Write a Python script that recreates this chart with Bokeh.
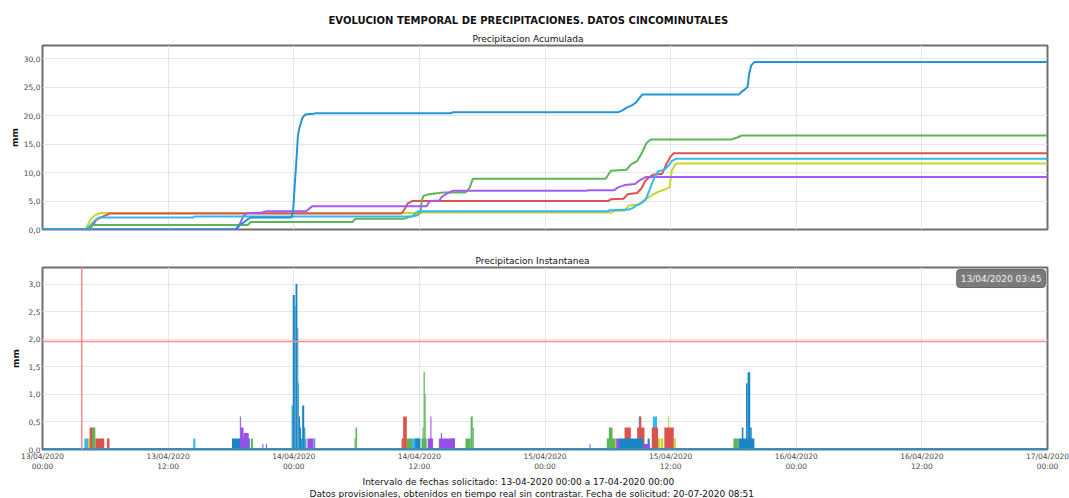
from bokeh.plotting import figure
from bokeh.layouts import column
from bokeh.models import FixedTicker, Title, Span, Label
from bokeh.embed import file_html
from bokeh.resources import INLINE

# ---------------- texts ----------------
title_main = "EVOLUCION TEMPORAL DE PRECIPITACIONES. DATOS CINCOMINUTALES"
title_top = "Precipitacion Acumulada"
title_bottom = "Precipitacion Instantanea"
footer_1 = "Intervalo de fechas solicitado: 13-04-2020 00:00 a 17-04-2020 00:00"
footer_2 = "Datos provisionales, obtenidos en tiempo real sin contrastar. Fecha de solicitud: 20-07-2020 08:51"
y_label = "mm"
cursor_label = "13/04/2020 03:45"
cursor_hour = 3.75       # hours since 13/04/2020 00:00
cursor_value = 1.96

# ---------------- axes ----------------
x_ticks = [0, 12, 24, 36, 48, 60, 72, 84, 96]   # hours since 13/04/2020 00:00
x_tick_labels = ["13/04/2020\n00:00", "13/04/2020\n12:00", "14/04/2020\n00:00",
                 "14/04/2020\n12:00", "15/04/2020\n00:00", "15/04/2020\n12:00",
                 "16/04/2020\n00:00", "16/04/2020\n12:00", "17/04/2020\n00:00"]
top_y_ticks = [0, 5, 10, 15, 20, 25, 30]
top_y_labels = ["0,0", "5,0", "10,0", "15,0", "20,0", "25,0", "30,0"]
bot_y_ticks = [0, 0.5, 1.0, 1.5, 2.0, 2.5, 3.0]
bot_y_labels = ["0,0", "0,5", "1,0", "1,5", "2,0", "2,5", "3,0"]

# ---------------- series colours ----------------
c_dblue = "#2496d3"
c_lblue = "#36b9ef"
c_green = "#5db55a"
c_red = "#d9534f"
c_purple = "#a35cf2"
c_yellow = "#c6d62b"

# ---------------- accumulated precipitation (hour, mm) ----------------
acum_dblue = [(0, 0), (18.4, 0), (18.7, 0.6), (19.2, 1.2), (19.6, 1.8), (19.9, 2.1), (23.8, 2.1),
              (23.95, 3.5), (24.1, 8.0), (24.25, 12.0), (24.4, 16.5), (24.5, 17.5), (24.8, 19.5),
              (25.1, 20.2), (25.9, 20.3), (26.1, 20.4), (39.0, 20.4), (39.2, 20.6), (55.0, 20.6),
              (55.4, 20.9), (55.8, 21.4), (56.3, 21.8), (56.7, 22.3), (57.0, 23.0), (57.3, 23.7),
              (66.5, 23.7), (66.8, 24.2), (67.1, 24.6), (67.35, 25.0), (67.5, 27.3), (67.7, 28.8),
              (68.0, 29.4), (96, 29.4)]
acum_lblue = [(0, 0), (4.2, 0), (4.5, 0.6), (5.0, 1.6), (5.4, 2.1), (14.4, 2.1), (14.5, 2.3),
              (35.3, 2.3), (35.6, 2.8), (35.9, 3.2), (54.0, 3.2), (54.2, 3.4), (56.0, 3.5),
              (56.4, 3.8), (56.9, 4.4), (57.2, 4.6), (57.6, 5.2), (57.9, 6.5), (58.2, 8.0),
              (58.5, 9.3), (58.8, 10.2), (59.4, 10.5), (59.8, 11.2), (60.1, 12.0), (60.5, 12.4),
              (96, 12.4)]
acum_red = [(0, 0), (4.4, 0), (4.8, 0.8), (5.2, 1.8), (5.9, 2.4), (6.2, 2.6), (6.4, 2.8),
            (34.3, 2.8), (34.6, 3.6), (34.9, 4.6), (35.3, 5.0), (54.0, 5.0), (54.3, 5.3),
            (55.5, 5.4), (55.9, 6.2), (56.8, 6.4), (57.2, 7.2), (57.6, 8.6), (58.0, 9.2),
            (58.3, 9.6), (59.2, 9.8), (59.6, 11.5), (60.0, 12.8), (60.3, 13.4), (96, 13.4)]
acum_green = [(0, 0), (4.5, 0), (4.8, 0.8), (19.6, 0.8), (19.9, 1.3), (29.6, 1.3), (29.9, 1.9),
              (34.6, 1.9), (35.0, 2.2), (35.8, 2.5), (36.1, 3.0), (36.25, 5.2), (36.4, 5.9),
              (36.9, 6.2), (37.9, 6.4), (38.3, 6.5), (40.4, 6.5), (40.8, 7.3), (41.1, 8.9),
              (53.8, 8.9), (54.3, 10.3), (55.8, 10.5), (56.2, 11.4), (56.8, 12.0), (57.3, 13.6),
              (57.7, 15.2), (58.1, 15.8), (65.8, 15.8), (66.3, 16.1), (66.8, 16.5), (96, 16.5)]
acum_purple = [(0, 0), (18.6, 0), (18.9, 1.2), (19.2, 2.4), (19.6, 2.9), (21.0, 3.0), (21.4, 3.2),
               (25.2, 3.2), (25.5, 3.7), (25.8, 4.1), (36.7, 4.1), (36.9, 4.8), (37.1, 5.0),
               (37.9, 5.1), (38.2, 5.8), (38.6, 6.3), (39.2, 6.8), (52.0, 6.8), (52.1, 6.9),
               (54.6, 6.9), (55.0, 7.4), (55.6, 7.8), (56.6, 8.0), (57.0, 8.6), (57.6, 9.2),
               (96, 9.2)]
acum_yellow = [(0, 0), (4.1, 0), (4.6, 1.8), (5.0, 2.5), (5.6, 2.9), (35.4, 2.9), (35.8, 3.0),
               (54.4, 3.0), (54.7, 3.3), (55.6, 3.3), (56.0, 4.2), (57.0, 4.4), (57.5, 5.2),
               (58.4, 6.2), (58.8, 6.6), (59.4, 7.0), (59.9, 7.4), (60.1, 10.3), (60.5, 11.6),
               (96, 11.6)]

# ---------------- instantaneous precipitation (start hour, end hour, mm) ----------------
bars_lblue = [(4.0, 4.4, 0.2), (14.4, 14.6, 0.2), (35.2, 36.05, 0.2),
              (56.95, 57.1, 0.6), (58.3, 58.7, 0.6)]
bars_yellow = [(4.35, 4.5, 0.2), (54.6, 54.8, 0.2), (58.7, 59.0, 0.2), (59.05, 59.3, 0.2),
               (59.75, 59.85, 0.6), (60.3, 60.5, 0.2)]
bars_red = [(4.5, 4.85, 0.4), (5.05, 5.9, 0.2), (6.15, 6.4, 0.2), (34.3, 34.45, 0.2),
            (34.45, 34.8, 0.6), (55.6, 56.2, 0.4), (56.8, 57.5, 0.4), (57.0, 57.2, 0.6),
            (58.2, 58.8, 0.4), (59.4, 60.3, 0.4)]
bars_green = [(4.75, 5.05, 0.4), (19.9, 20.1, 0.2), (29.8, 29.9, 0.2), (29.9, 30.05, 0.4),
              (34.8, 35.3, 0.2), (36.2, 36.7, 0.2), (36.3, 36.4, 0.4), (36.4, 36.52, 1.4),
              (36.52, 36.6, 1.0), (37.85, 37.95, 0.2), (40.4, 40.9, 0.2), (40.9, 41.1, 0.6),
              (41.1, 41.2, 0.4), (53.9, 54.7, 0.2), (54.1, 54.45, 0.4), (66.0, 66.5, 0.2)]
bars_dblue = [(18.1, 19.8, 0.2), (35.6, 36.1, 0.2), (23.8, 23.9, 0.8), (23.9, 24.1, 2.8),
              (24.1, 24.17, 2.6), (24.17, 24.35, 3.0), (24.35, 24.43, 2.2), (24.43, 24.5, 1.2),
              (24.5, 24.6, 0.6), (24.6, 24.7, 0.4), (24.7, 24.8, 0.2), (24.8, 25.0, 0.8),
              (25.0, 25.1, 0.4), (25.1, 25.2, 0.2), (25.95, 26.05, 0.2), (39.0, 39.4, 0.2),
              (55.05, 57.4, 0.2), (57.8, 58.0, 0.2), (66.5, 68.0, 0.2), (66.8, 66.95, 0.4),
              (67.2, 67.35, 1.2), (67.35, 67.6, 1.4), (67.6, 67.75, 0.4)]
bars_purple = [(18.85, 18.95, 0.6), (18.95, 19.2, 0.4), (19.2, 19.7, 0.3), (21.0, 21.1, 0.1),
               (21.35, 21.45, 0.1), (25.3, 25.9, 0.2), (36.8, 37.3, 0.2), (37.05, 37.15, 0.6),
               (37.9, 39.4, 0.2), (38.05, 38.15, 0.3), (52.25, 52.35, 0.1), (54.8, 55.1, 0.2),
               (57.4, 58.0, 0.1)]

FONT = "DejaVu Sans"
TICK_COLOR = "#4a4a4a"
GRID_COLOR = "#e6e6e6"
FRAME_COLOR = "#6f6f6f"


def style_axes(p, yticks, ylabels, label_standoff):
    p.yaxis.ticker = FixedTicker(ticks=yticks)
    p.yaxis.major_label_overrides = {t: l for t, l in zip(yticks, ylabels)}
    p.yaxis.axis_label = y_label
    p.yaxis.axis_label_text_font = FONT
    p.yaxis.axis_label_text_font_size = "9px"
    p.yaxis.axis_label_text_font_style = "bold"
    p.yaxis.axis_label_text_color = "#111111"
    p.yaxis.axis_label_standoff = label_standoff
    p.yaxis.major_label_text_font = FONT
    p.yaxis.major_label_text_font_size = "7.5px"
    p.yaxis.major_label_text_color = TICK_COLOR
    p.yaxis.major_label_standoff = 2
    p.yaxis.axis_line_color = None
    p.yaxis.major_tick_line_color = None
    p.yaxis.minor_tick_line_color = None
    p.yaxis.major_tick_out = 0
    p.yaxis.major_tick_in = 0
    p.yaxis.minor_tick_out = 0
    p.yaxis.minor_tick_in = 0
    p.xgrid.ticker = FixedTicker(ticks=x_ticks)
    p.xgrid.grid_line_color = GRID_COLOR
    p.ygrid.grid_line_color = GRID_COLOR
    p.outline_line_color = FRAME_COLOR
    p.outline_line_width = 2
    p.background_fill_color = "white"
    p.border_fill_color = "white"


def style_title(t, size, bold, shift):
    # left aligned text, shifted so that it sits centred near x = 528 of the page
    t.align = "left"
    t.offset = shift
    t.text_font = FONT
    t.text_font_size = size
    t.text_font_style = "bold" if bold else "normal"
    t.text_color = "#111111"


# ---------------- top chart ----------------
p1 = figure(width=1069, height=250, x_range=(0, 96), y_range=(0, 32.3),
            output_backend="svg", toolbar_location=None, title=title_main,
            min_border_left=42, min_border_right=21, min_border_top=45, min_border_bottom=21)
style_title(p1.title, "10px", True, 286)
p1.title.standoff = 8
sub1 = Title(text=title_top, standoff=4)
style_title(sub1, "9px", False, 430)
p1.add_layout(sub1, "above")
p1.xaxis.visible = False
style_axes(p1, top_y_ticks, top_y_labels, 1)

for pts, col in [(acum_yellow, c_yellow), (acum_red, c_red), (acum_green, c_green),
                 (acum_purple, c_purple), (acum_lblue, c_lblue), (acum_dblue, c_dblue)]:
    p1.line([a for a, b in pts], [b for a, b in pts], line_color=col, line_width=2)

# ---------------- bottom chart ----------------
p2 = figure(width=1069, height=248, x_range=(0, 96), y_range=(0, 3.3),
            output_backend="svg", toolbar_location=None, title=title_bottom,
            min_border_left=38, min_border_right=22, min_border_top=17, min_border_bottom=40)
style_title(p2.title, "9px", False, 433)
p2.title.standoff = 4
style_axes(p2, bot_y_ticks, bot_y_labels, 5)
p2.xaxis.ticker = FixedTicker(ticks=x_ticks)
p2.xaxis.major_label_overrides = {t: l for t, l in zip(x_ticks, x_tick_labels)}
p2.xaxis.major_label_text_font = FONT
p2.xaxis.major_label_text_font_size = "7.5px"
p2.xaxis.major_label_text_color = TICK_COLOR
p2.xaxis.major_label_standoff = 2
p2.xaxis.axis_line_color = None
p2.xaxis.major_tick_line_color = None
p2.xaxis.minor_tick_line_color = None
p2.xaxis.major_tick_out = 0
p2.xaxis.major_tick_in = 0
p2.xaxis.minor_tick_out = 0
p2.xaxis.minor_tick_in = 0

for bars, col in [(bars_lblue, c_lblue), (bars_yellow, c_yellow), (bars_red, c_red),
                  (bars_green, c_green), (bars_dblue, "#1a86c4"), (bars_purple, "#9a4de8")]:
    p2.quad(left=[b[0] for b in bars], right=[b[1] for b in bars],
            top=[b[2] for b in bars], bottom=0, fill_color=col, line_color=None)

p2.line(x_ticks, [0] * len(x_ticks), line_color=c_dblue, line_width=3)

p2.add_layout(Span(location=cursor_hour, dimension="height", line_color="#ff8a8a", line_width=1.5))
p2.add_layout(Span(location=cursor_value, dimension="width", line_color="#ff8a8a", line_width=1.5))
p2.add_layout(Label(x=95.8, y=3.1, text=cursor_label, text_align="right", text_baseline="middle",
                    text_font=FONT, text_font_size="9px", text_color="#f4f4f4",
                    background_fill_color="#7b7b7b", border_line_color="#666666",
                    padding=4, border_radius=3))

f1 = Title(text=footer_1, standoff=0)
style_title(f1, "9px", False, 320)
f2 = Title(text=footer_2, standoff=0)
style_title(f2, "9px", False, 267)
p2.add_layout(f1, "below")
p2.add_layout(f2, "below")

layout = column(p1, p2)
open("out.html", "w").write(file_html(layout, INLINE))
